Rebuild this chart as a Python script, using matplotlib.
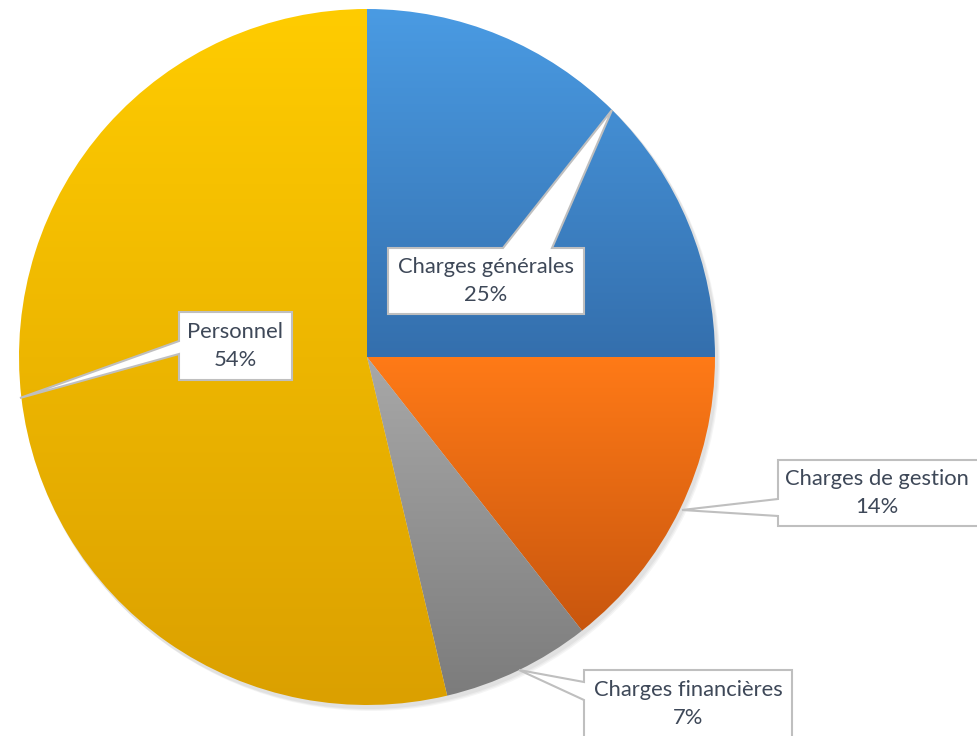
import matplotlib
matplotlib.use("Agg")
import matplotlib.pyplot as plt
import numpy as np
from matplotlib.colors import LinearSegmentedColormap
from matplotlib.patches import Polygon

categories = ["Charges générales", "Charges de gestion", "Charges financières", "Personnel"]
values = [25.0, 14.4, 6.9, 53.7]
labels = ["25%", "14%", "7%", "54%"]
top_colors = ["#4A9BE3", "#FF7A17", "#A8A8A8", "#FFCC00"]
bottom_colors = ["#346FAD", "#C8560E", "#7C7C7C", "#DBA000"]

W, H = 978, 736
fig = plt.figure(figsize=(W / 100, H / 100), dpi=100)
ax = fig.add_axes([0, 0, 1, 1])

cx, cy, R = 367, H - 357, 348

# soft shadow
for i in range(3):
    sh = plt.Circle((cx + 2 + i, cy - 3 - i), R + 1, color="black", alpha=0.04, zorder=1, lw=0)
    ax.add_patch(sh)

wedges, _ = ax.pie(values, center=(cx, cy), radius=R, startangle=90,
                   counterclock=False, frame=True,
                   wedgeprops=dict(linewidth=0, facecolor="none"))

for w, tc, bc in zip(wedges, top_colors, bottom_colors):
    ext = w.get_path().get_extents(w.get_transform() - ax.transData)
    cmap = LinearSegmentedColormap.from_list("g", [bc, tc])
    grad = np.linspace(0, 1, 256).reshape(-1, 1)
    im = ax.imshow(grad, cmap=cmap, origin="lower", aspect="auto",
                   extent=[ext.x0, ext.x1, ext.y0, ext.y1], zorder=2,
                   interpolation="bilinear")
    im.set_clip_path(w)

ax.set_xlim(0, W)
ax.set_ylim(0, H)
ax.set_aspect("auto")
ax.axis("off")


def yy(v):
    return H - v


callouts = [
    dict(box=(388, 248, 584, 314), tip=(612, 110), base=[(552, 248), (503, 248)], tc=(486, 281)),
    dict(box=(778, 460, 990, 526), tip=(682, 510), base=[(778, 499), (778, 516)], tc=(877, 493)),
    dict(box=(584, 670, 792, 750), tip=(519, 670), base=[(584, 682), (584, 700)], tc=(688, 704)),
    dict(box=(179, 312, 292, 380), tip=(20, 398), base=[(179, 341), (179, 354)], tc=(235, 346)),
]
edge = "#BFBFBF"
for c, cat, lab in zip(callouts, categories, labels):
    x0, t, x1, b = c["box"]
    (bx1, by1), (bx2, by2) = c["base"]
    if by1 == by2 == t:
        pts = [(x0, t), (min(bx1, bx2), t), c["tip"], (max(bx1, bx2), t), (x1, t), (x1, b), (x0, b)]
    else:
        pts = [(x0, t), (x1, t), (x1, b), (x0, b), (x0, max(by1, by2)), c["tip"], (x0, min(by1, by2))]
    poly = Polygon([(px, yy(py)) for px, py in pts], closed=True, facecolor="white",
                   edgecolor=edge, linewidth=1.5, zorder=5, joinstyle="miter")
    ax.add_patch(poly)
    tx, ty = c["tc"]
    ax.text(tx, yy(ty), f"{cat}\n{lab}", ha="center", va="center",
            fontsize=15.8, color="#3E4858", family=["Lato", "DejaVu Sans"],
            linespacing=1.45, zorder=6)

fig.savefig("out.png", dpi=100)
